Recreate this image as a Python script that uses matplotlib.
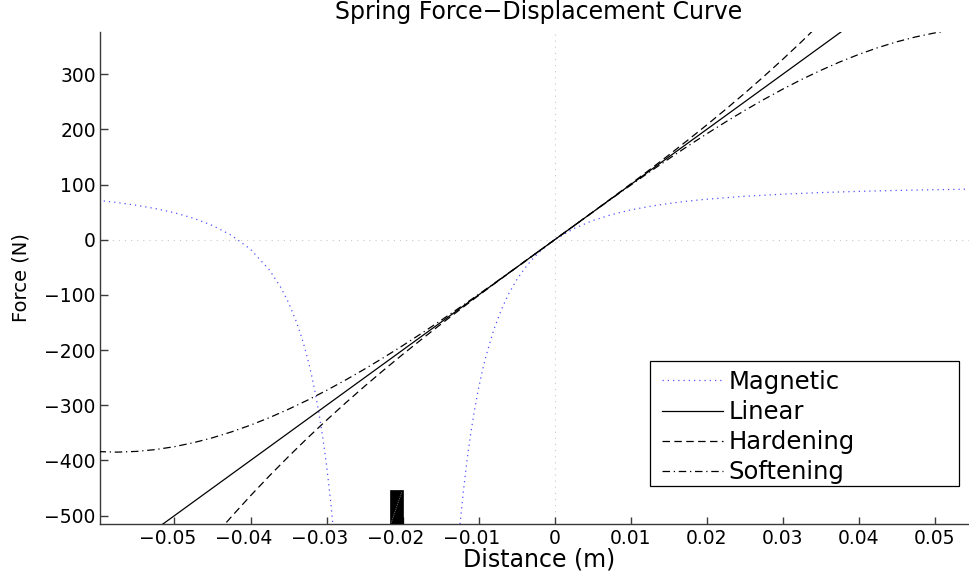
import matplotlib
matplotlib.use("Agg")
import matplotlib.pyplot as plt
from matplotlib.patches import Rectangle
from matplotlib.transforms import ScaledTranslation

# Displacement samples (m)
x_linear = [-0.06, -0.04, -0.02, 0.0, 0.02, 0.04]
f_linear = [-600.0, -400.0, -200.0, 0.0, 200.0, 400.0]

x_cubic = [-0.06, -0.0575, -0.055, -0.0525, -0.05, -0.0475, -0.045, -0.0425,
           -0.04, -0.0375, -0.035, -0.0325, -0.03, -0.0275, -0.025, -0.0225,
           -0.02, -0.0175, -0.015, -0.0125, -0.01, -0.0075, -0.005, -0.0025,
           0.0, 0.0025, 0.005, 0.0075, 0.01, 0.0125, 0.015, 0.0175,
           0.02, 0.0225, 0.025, 0.0275, 0.03, 0.0325, 0.035, 0.0375,
           0.04, 0.0425, 0.045, 0.0475, 0.05, 0.0525, 0.055, 0.0575, 0.06]

f_hardening = [-816.0, -765.1, -716.4, -669.7, -625.0, -582.2, -541.1, -501.8,
               -464.0, -427.7, -392.9, -359.3, -327.0, -295.8, -265.6, -236.4,
               -208.0, -180.4, -153.4, -127.0, -101.0, -75.4, -50.1, -25.0,
               0.0, 25.0, 50.1, 75.4, 101.0, 127.0, 153.4, 180.4,
               208.0, 236.4, 265.6, 295.8, 327.0, 359.3, 392.9, 427.7,
               464.0, 501.8, 541.1, 582.2, 625.0, 669.7, 716.4, 765.1, 816.0]

f_softening = [-384.0, -384.9, -383.6, -380.3, -375.0, -367.8, -358.9, -348.2,
               -336.0, -322.3, -307.1, -290.7, -273.0, -254.2, -234.4, -213.6,
               -192.0, -169.6, -146.6, -123.0, -99.0, -74.6, -49.9, -25.0,
               0.0, 25.0, 49.9, 74.6, 99.0, 123.0, 146.6, 169.6,
               192.0, 213.6, 234.4, 254.2, 273.0, 290.7, 307.1, 322.3,
               336.0, 348.2, 358.9, 367.8, 375.0, 380.3, 383.6, 384.9, 384.0]

# Magnetic spring: two branches on either side of the magnet
x_mag_left = [-0.06, -0.0575, -0.055, -0.0525, -0.05, -0.0475, -0.045, -0.0425,
              -0.04, -0.0375, -0.036, -0.035, -0.034, -0.0335, -0.033, -0.0325,
              -0.032, -0.0315, -0.031, -0.0305, -0.030, -0.0295, -0.029]
f_mag_left = [71.4, 67.5, 62.6, 56.6, 49.0, 39.1, 26.0, 8.1,
              -17.2, -54.8, -86.7, -113.9, -147.4, -167.2, -189.5, -214.7,
              -243.4, -276.2, -313.9, -357.6, -408.6, -468.7, -540.1]

x_mag_right = [-0.0125, -0.012, -0.0115, -0.011, -0.0105, -0.01, -0.0095, -0.009,
               -0.008, -0.007, -0.006, -0.005, -0.004, -0.003, -0.002, -0.001,
               0.0, 0.0025, 0.005, 0.0075, 0.01, 0.0125, 0.015, 0.0175,
               0.02, 0.025, 0.03, 0.035, 0.04, 0.045, 0.05, 0.055, 0.06]
f_mag_right = [-524.8, -455.9, -397.8, -348.3, -305.9, -269.3, -237.4, -209.4,
               -163.1, -126.4, -96.9, -72.8, -53.0, -36.3, -22.3, -10.3,
               0.0, 20.2, 34.8, 45.7, 54.1, 60.6, 65.8, 70.1,
               73.6, 78.9, 82.7, 85.6, 87.8, 89.5, 90.8, 91.9, 92.8]

# Magnet block (m, N)
magnet_x = [-0.0217, -0.0200]
magnet_top = -454.0

x_ticks = [-0.05, -0.04, -0.03, -0.02, -0.01, 0.0, 0.01, 0.02, 0.03, 0.04, 0.05]
x_tick_labels = ['\u22120.05', '\u22120.04', '\u22120.03', '\u22120.02', '\u22120.01',
                 '0', '0.01', '0.02', '0.03', '0.04', '0.05']
y_ticks = [-500, -400, -300, -200, -100, 0, 100, 200, 300]
y_tick_labels = ['\u2212500', '\u2212400', '\u2212300', '\u2212200', '\u2212100',
                 '0', '100', '200', '300']

x_range = (-0.0598, 0.0557)
y_range = (-515.2, 376.7)

plt.rcParams['font.family'] = ['DejaVu Sans']

W, H = 970, 576
fig = plt.figure(figsize=(W / 100, H / 100), dpi=100)
ax = fig.add_axes([100 / W, 52 / H, 878 / W, 492 / H])
ax.set_xlim(*x_range)
ax.set_ylim(*y_range)

# zero reference lines
ax.axhline(0, color='#c8c8c8', lw=0.8, dashes=(1, 4.5), zorder=1)
ax.axvline(0, color='#c8c8c8', lw=0.8, dashes=(1, 4.5), zorder=1)

mag_color = '#5050ff'
ax.plot(x_mag_left, f_mag_left, color=mag_color, lw=0.9, dashes=(1, 3.2),
        label='Magnetic', zorder=3)
ax.plot(x_mag_right, f_mag_right, color=mag_color, lw=0.9, dashes=(1, 3.2), zorder=3)
ax.plot(x_linear, f_linear, color='black', lw=0.9, label='Linear', zorder=3)
ax.plot(x_cubic, f_hardening, color='black', lw=0.9, dashes=(6, 3.5),
        label='Hardening', zorder=3)
ax.plot(x_cubic, f_softening, color='black', lw=0.9, dashes=(6, 3, 1, 3),
        label='Softening', zorder=3)

# magnet block
ax.add_patch(Rectangle((magnet_x[0], y_range[0]), magnet_x[1] - magnet_x[0],
                       magnet_top - y_range[0], facecolor='black',
                       edgecolor='black', lw=0.5, zorder=4))
ax.plot([magnet_x[0] + 0.0002, magnet_x[1] - 0.0001],
        [y_range[0] + 2, magnet_top - 3], color='#6a6a6a', lw=0.6,
        dashes=(1.5, 1), zorder=5)

# axes styling
for side in ('top', 'right'):
    ax.spines[side].set_visible(False)
for side in ('left', 'bottom'):
    ax.spines[side].set_color('#3a3a3a')
    ax.spines[side].set_linewidth(1.0)

ax.set_xticks(x_ticks)
ax.set_xticklabels(x_tick_labels)
ax.set_yticks(y_ticks)
ax.set_yticklabels(y_tick_labels)
ax.tick_params(axis='both', direction='in', color='#3a3a3a', width=1.0,
               labelsize=13.5, labelcolor='black')
ax.tick_params(axis='y', length=6, pad=3)
ax.tick_params(axis='x', length=4.8, pad=3.5)

shift = ScaledTranslation(-7 / 100, 0, fig.dpi_scale_trans)
for lbl in ax.get_xticklabels():
    if lbl.get_text().startswith('\u2212'):
        lbl.set_transform(lbl.get_transform() + shift)

ax.set_title('Spring Force\u2212Displacement Curve', fontsize=17, pad=9)
ax.set_xlabel('Distance (m)', fontsize=17, va='baseline')
ax.xaxis.set_label_coords(0.5, -43 / 492)
ax.set_ylabel('Force (N)', fontsize=14, va='center')
ax.yaxis.set_label_coords(-79 / 878, 0.5)

# legend
leg = ax.legend(loc='upper left', bbox_to_anchor=(661.7 / W, 1 - 370.0 / H),
                bbox_transform=fig.transFigure, frameon=False, fontsize=17.5,
                borderpad=0, borderaxespad=0, handlelength=2.51,
                handletextpad=0.25, labelspacing=0.25)
leg.set_zorder(6)
ax.add_patch(Rectangle((650 / W, 1 - 486 / H), 309 / W, 125 / H,
                       transform=fig.transFigure, facecolor='white',
                       edgecolor='black', lw=0.9, clip_on=False, zorder=5.5))

fig.savefig('out.png', dpi=100)
